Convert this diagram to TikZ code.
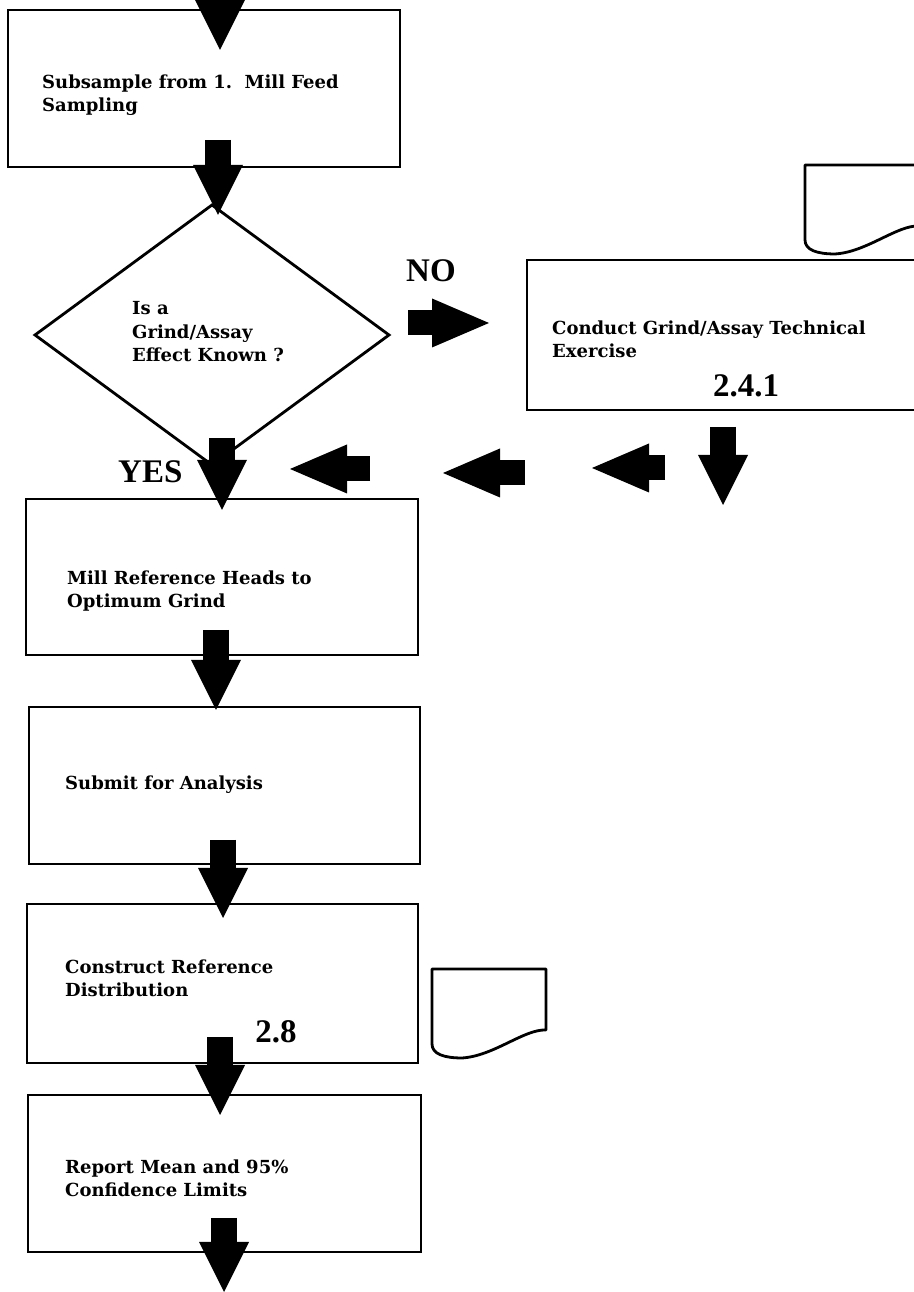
\documentclass[tikz,border=0pt]{standalone}
\usepackage{fontspec}
\setmainfont{DejaVu Serif}
\newfontfamily\labelfont{Liberation Serif}
\usetikzlibrary{shapes.geometric,arrows.meta,calc}

% page-like sheet symbol with a wavy lower edge
\newcommand{\docsheet}[1]{%
  \draw[sheet] (#1.north west) -- (#1.north east)
    -- ($(#1.south east)+(0,28)$)
    .. controls ($(#1.south east)+(-22,29)$) and ($(#1.south east)+(-52,2)$) .. ($(#1.south west)+(30,0)$)
    .. controls ($(#1.south west)+(12,0)$) and ($(#1.south west)+(0,4)$) .. ($(#1.south west)+(0,14)$)
    -- cycle;}

\begin{document}
\begin{tikzpicture}[x=1pt,y=1pt,
  box/.style={draw, line width=2.3pt, rectangle, inner sep=0pt, outer sep=0pt},
  decision/.style={draw, line width=2.8pt, diamond, inner sep=0pt, outer sep=0pt},
  sheetframe/.style={rectangle, inner sep=0pt, outer sep=0pt},
  sheet/.style={line width=2.8pt, line join=round},
  % anchored at the baseline of the last line
  txt/.style={anchor=base west, align=left, inner sep=0pt,
    font=\fontsize{18}{23.5}\selectfont\bfseries},
  biglabel/.style={inner sep=0pt, font=\labelfont\bfseries\fontsize{33}{33}\selectfont},
  blk/.style={line width=26pt,
    -{Triangle[length=50pt,width=50pt,line width=0pt]}},
  hblk/.style={line width=25pt,
    -{Triangle[length=57pt,width=49pt,line width=0pt]}},
]
\useasboundingbox (0,0) rectangle (913,1292);
\fill[white] (0,0) rectangle (913,1292);

% process boxes and decision
\node[box, minimum width=392pt, minimum height=157pt] (b1) at (204,1203.5) {};
\node[decision, minimum width=354pt, minimum height=260pt] (dia) at (212,957) {};
\node[box, minimum width=408pt, minimum height=150pt] (b2) at (731,957) {};
\node[box, minimum width=392pt, minimum height=156pt] (b3) at (222,715) {};
\node[box, minimum width=391pt, minimum height=157pt] (b4) at (224.5,506.5) {};
\node[box, minimum width=391pt, minimum height=159pt] (b5) at (222.5,308.5) {};
\node[box, minimum width=393pt, minimum height=157pt] (b6) at (224.5,118.5) {};

% document symbols
\node[sheetframe, minimum width=114pt, minimum height=89pt] (doc1) at (862,1082.5) {};
\node[sheetframe, minimum width=114pt, minimum height=89pt] (doc2) at (489,278.5) {};
\docsheet{doc1}
\docsheet{doc2}

% texts
\node[txt] (t1) at (42,1180) {Subsample from 1.\ \ Mill Feed\\Sampling};
\node[txt] (tq) at (132,930) {Is a\\Grind/Assay\\Effect Known ?};
\node[txt] (t2) at (552,934) {Conduct Grind/Assay Technical\\Exercise};
\node[txt] (t3) at (67,684) {Mill Reference Heads to\\Optimum Grind};
\node[txt] (t4) at (65,502) {Submit for Analysis};
\node[txt] (t5) at (65,295) {Construct Reference\\Distribution};
\node[txt] (t6) at (65,95) {Report Mean and 95\%\\Confidence Limits};

\node[biglabel, anchor=base west] (no) at (406,1010) {NO};
\node[biglabel, anchor=base west] (yes) at (118,809) {YES};
\node[biglabel, anchor=base] (s241) at (746,895) {2.4.1};
\node[biglabel, anchor=base] (s28) at (276,249) {2.8};

% free ends of the flow
\coordinate (feed) at (220,1345);
\coordinate (out) at (224,0);
\coordinate (back) at (723,787);
\coordinate (r1a) at (665,824);
\coordinate (r1b) at (592,824);
\coordinate (r2a) at (525,819);
\coordinate (r2b) at (443,819);
\coordinate (r3a) at (370,823);
\coordinate (r3b) at (290,823);

% block arrows
\draw[blk] (feed) -- ([xshift=16pt,yshift=-40pt]b1.north);
\draw[blk] ([xshift=14pt,yshift=27pt]b1.south) -- ([xshift=6pt,yshift=-10pt]dia.north);
\draw[hblk] ([xshift=19pt,yshift=12pt]dia.east) -- ([xshift=-38pt,yshift=12pt]b2.west);
\draw[blk] ([xshift=10pt,yshift=27pt]dia.south) -- ([yshift=-11pt]b3.north);
\draw[blk] ([xshift=-8pt,yshift=-17pt]b2.south) -- (back);
\draw[hblk] (r1a) -- (r1b);
\draw[hblk] (r2a) -- (r2b);
\draw[hblk] (r3a) -- (r3b);
\draw[blk] ([xshift=-6pt,yshift=25pt]b3.south) -- ([xshift=-8.5pt,yshift=-3pt]b4.north);
\draw[blk] ([xshift=-1.5pt,yshift=24pt]b4.south) -- ([xshift=0.5pt,yshift=-14pt]b5.north);
\draw[blk] ([xshift=-2.5pt,yshift=26pt]b5.south) -- ([xshift=-4.5pt,yshift=-20pt]b6.north);
\draw[blk] ([xshift=-0.5pt,yshift=34pt]b6.south) -- (out);
\end{tikzpicture}
\end{document}
